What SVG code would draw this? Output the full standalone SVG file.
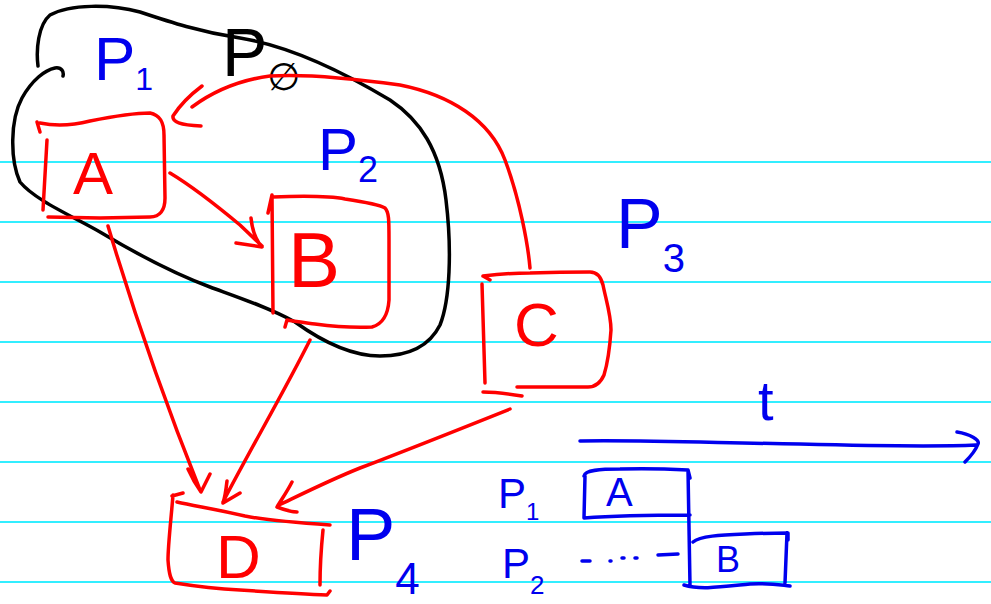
<svg xmlns="http://www.w3.org/2000/svg" width="991" height="604" viewBox="0 0 991 604">
<style>
.rule{stroke:#33eeff;stroke-width:2;fill:none}
.ink{fill:none;stroke-width:3.5;stroke-linecap:round;stroke-linejoin:round}
.red{stroke:#ff0000}
.blue{stroke:#0000ee}
.black{stroke:#000000}
.lbl{font-family:"Liberation Sans","DejaVu Sans",sans-serif}
.rt{fill:#ff0000}
.bt{fill:#0000ee}
.kt{fill:#000000}
</style>
<rect width="991" height="604" fill="#ffffff"/>
<g id="rules">
<line class="rule" x1="0" y1="162" x2="991" y2="162"/>
<line class="rule" x1="0" y1="222" x2="991" y2="222"/>
<line class="rule" x1="0" y1="282" x2="991" y2="282"/>
<line class="rule" x1="0" y1="342" x2="991" y2="342"/>
<line class="rule" x1="0" y1="402" x2="991" y2="402"/>
<line class="rule" x1="0" y1="462" x2="991" y2="462"/>
<line class="rule" x1="0" y1="522" x2="991" y2="522"/>
<line class="rule" x1="0" y1="582" x2="991" y2="582"/>
</g>
<g id="group-p0">
<path class="ink black" d="M38,66 C36,50 38,25 50,15 C70,4 110,4 140,12 C170,22 200,32 240,38 C290,46 340,70 390,100 C420,120 440,150 446,200 C452,250 450,300 440,325 C430,345 410,356 380,356 C350,356 320,340 295,322 C270,308 240,298 210,287 C170,272 130,250 100,232 C70,215 35,200 20,182 C10,160 10,120 22,98 C32,80 45,70 55,68 C62,67 64,72 63,76"/>
<text class="lbl kt" x="222" y="76" font-size="68">P<tspan font-size="38" dy="14">∅</tspan></text>
</g>
<g id="node-A">
<path class="ink red" d="M37,122 L40,132 M40,123 C55,126 70,126 90,121 C110,117 130,113 150,113 C160,115 164,122 164,135 L165,198 C165,210 160,217 150,217 L100,218 L48,217 M47,140 L43,210"/>
<text class="lbl rt" x="73" y="194" font-size="60">A</text>
</g>
<g id="node-B">
<path class="ink red" d="M268,213 L272,195 L273,313 M273,197 C300,196 330,196 345,199 C365,202 380,205 385,208 C389,212 389,220 389,240 L389,300 C388,315 383,324 372,327 C350,328 330,326 315,324 C300,322 292,321 287,320 L285,327"/>
<text class="lbl rt" x="288" y="287" font-size="78">B</text>
</g>
<g id="node-C">
<path class="ink red" d="M483,276 L490,280 M483,276 C500,274 515,273 530,273 C560,272 580,272 590,272 C597,272 601,277 603,285 C606,300 611,315 611,330 C610,345 608,362 604,375 C600,384 595,387 588,387 L517,387 M482,284 L485,383 M483,392 C495,392 510,394 522,396"/>
<text class="lbl rt" x="514" y="346" font-size="62">C</text>
<text class="lbl bt" x="616" y="248" font-size="70">P<tspan font-size="40" dy="24">3</tspan></text>
</g>
<g id="node-D">
<path class="ink red" d="M172,496 L183,493 M177,502 C195,506 220,510 245,516 C270,521 300,523 330,525 M323,530 C321,550 320,570 320,585 M173,495 C171,520 168,545 168,560 C169,575 171,581 175,583 C200,587 220,589 240,590 C270,592 300,594 327,595 L330,591"/>
<text class="lbl rt" x="216" y="578" font-size="62">D</text>
<text class="lbl bt" x="346" y="560" font-size="74">P<tspan font-size="44" dy="34">4</tspan></text>
</g>
<g id="label-p1">
<text class="lbl bt" x="94" y="80" font-size="62">P<tspan font-size="32" dy="10">1</tspan></text>
</g>
<g id="label-p2">
<text class="lbl bt" x="318" y="170" font-size="60">P<tspan font-size="36" dy="12">2</tspan></text>
</g>
<g id="connectors">
<path class="ink red" d="M170,173 C190,185 210,200 240,225 L262,246 M251,218 C252,228 254,238 262,247 L236,243"/>
<path class="ink red" d="M530,268 C528,245 520,200 505,160 C490,120 450,95 400,85 C350,78 300,74 270,76 C240,80 215,90 192,107 M202,86 C190,95 180,105 173,116 C172,122 180,125 201,126"/>
<path class="ink red" d="M108,226 C130,300 160,390 200,490 M188,469 C192,478 196,485 201,492 L210,474"/>
<path class="ink red" d="M310,340 C285,390 250,450 223,502 M227,481 C226,490 225,497 223,503 L240,493"/>
<path class="ink red" d="M510,409 C470,425 420,445 360,468 C330,480 300,495 279,505 M292,482 C287,492 281,500 277,507 C285,510 292,512 297,512"/>
</g>
<g id="timeline">
<path class="ink blue" d="M580,441 C650,440 720,443 800,444 C880,446 930,447 976,445 M957,432 C970,434 980,440 978,444 C975,452 970,457 965,462"/>
<text class="lbl bt" x="758" y="420" font-size="56">t</text>
<text class="lbl bt" x="498" y="508" font-size="42">P<tspan font-size="24" dy="12">1</tspan></text>
<text class="lbl bt" x="502" y="578" font-size="42">P<tspan font-size="26" dy="16">2</tspan></text>
<path class="ink blue" d="M584,476 C585,470 600,469 620,469 C650,468 670,469 688,470 L690,478 M585,476 L584,518 C610,516 650,515 690,515 M688,470 L690,585 M582,561 L590,561 M610,561 L611,561 M622,558 L624,558 M635,558 L637,558 M658,555 L678,554 M693,542 C700,536 720,535 745,534 C770,533 780,533 788,533 L788,540 M787,533 L785,583 M684,585 C700,590 720,587 750,584 C770,583 780,585 790,586"/>
<text class="lbl bt" x="606" y="506" font-size="40">A</text>
<text class="lbl bt" x="716" y="572" font-size="36">B</text>
</g>
</svg>
